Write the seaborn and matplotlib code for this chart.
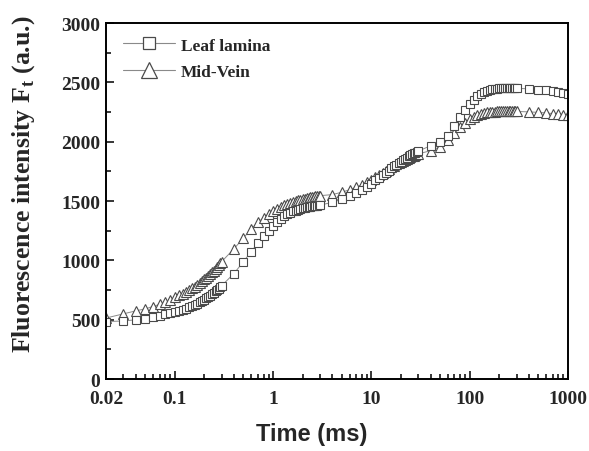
import matplotlib
matplotlib.use('Agg')
import matplotlib.pyplot as plt
from matplotlib.lines import Line2D
from matplotlib.ticker import FixedLocator, LogLocator, MultipleLocator, NullFormatter
import numpy as np
import pandas as pd
import seaborn as sns

# time axis of the transient (ms)
t_ms = [0.02, 0.03, 0.04, 0.05, 0.06, 0.07, 0.08, 0.09, 0.10, 0.11, 0.12, 0.13, 0.14, 0.15,
        0.16, 0.17, 0.18, 0.19, 0.20, 0.21, 0.22, 0.23, 0.24, 0.25, 0.26, 0.27, 0.28, 0.29, 0.30,
        0.4, 0.5, 0.6, 0.7, 0.8, 0.9, 1.0, 1.1, 1.2, 1.3, 1.4, 1.5, 1.6, 1.7, 1.8, 1.9, 2.0,
        2.1, 2.2, 2.3, 2.4, 2.5, 2.6, 2.7, 2.8, 2.9, 3.0,
        4, 5, 6, 7, 8, 9, 10, 11, 12, 13, 14, 15, 16, 17, 18, 19, 20, 21, 22, 23, 24, 25,
        26, 27, 28, 29, 30,
        40, 50, 60, 70, 80, 90, 100, 110, 120, 130, 140, 150, 160, 170, 180, 190, 200, 210,
        220, 230, 240, 250, 260, 270, 280, 290, 300,
        400, 500, 600, 700, 800, 900, 1000]

# Leaf lamina (squares)
leaf = [485, 490, 500, 510, 522, 534, 545, 555, 565, 575, 585, 595, 605, 615,
        626, 637, 648, 659, 670, 681, 692, 703, 715, 727, 739, 751, 763, 775, 787,
        890, 990, 1075, 1146, 1208, 1252, 1292, 1325, 1352, 1373, 1390, 1403, 1413, 1421, 1428, 1434, 1439,
        1443, 1447, 1450, 1453, 1456, 1458, 1460, 1462, 1464, 1466,
        1490, 1515, 1540, 1565, 1592, 1620, 1648, 1674, 1698, 1720, 1740, 1758, 1776, 1792, 1807, 1821,
        1834, 1846, 1857, 1867, 1877, 1886, 1894, 1902, 1909, 1916, 1922,
        1966, 1998, 2050, 2130, 2205, 2270, 2318, 2355, 2383, 2403, 2418, 2428, 2436, 2441, 2445, 2448,
        2450, 2451, 2452, 2453, 2453, 2453, 2453, 2453, 2452, 2452, 2451,
        2446, 2440, 2433, 2426, 2419, 2412, 2405]

# Mid-Vein (triangles)
vein = [515, 550, 575, 592, 612, 630, 650, 668, 690, 705, 720, 735, 750, 765,
        780, 795, 810, 825, 840, 855, 870, 885, 900, 915, 930, 945, 960, 975, 990,
        1098, 1190, 1265, 1320, 1360, 1390, 1416, 1436, 1452, 1465, 1476, 1485, 1493, 1500, 1506, 1511, 1516,
        1520, 1524, 1528, 1531, 1534, 1537, 1540, 1542, 1544, 1546,
        1555, 1575, 1596, 1617, 1638, 1660, 1682, 1703, 1722, 1740, 1757, 1772, 1786, 1799, 1811, 1822,
        1832, 1841, 1850, 1858, 1865, 1872, 1878, 1884, 1889, 1894, 1898,
        1925, 1958, 2015, 2072, 2122, 2162, 2192, 2212, 2226, 2236, 2243, 2248, 2251, 2253, 2255, 2256,
        2257, 2258, 2258, 2258, 2258, 2258, 2258, 2257, 2257, 2257, 2256,
        2252, 2248, 2243, 2238, 2233, 2229, 2225]

xticks = [0.02, 0.1, 1, 10, 100, 1000]
xticklabels = ['0.02', '0.1', '1', '10', '100', '1000']

sns.set_style('ticks')
plt.rcParams['font.family'] = ['Liberation Serif', 'DejaVu Serif']
plt.rcParams['font.weight'] = 'bold'
plt.rcParams['mathtext.fontset'] = 'custom'
plt.rcParams['mathtext.rm'] = 'Liberation Serif:bold'
plt.rcParams['mathtext.bf'] = 'Liberation Serif:bold'

df = pd.DataFrame({'t': t_ms, 'leaf': leaf, 'vein': vein})

fig = plt.figure(figsize=(5.89, 4.52), dpi=100)
ax = fig.add_axes([0.18, 0.159, 0.7843, 0.7876])

edge = '#4a4a4a'
sns.lineplot(data=df, x='t', y='vein', ax=ax, color='#8a8a8a', lw=0.7, marker='^',
             ms=7.5, mfc='white', mec=edge, mew=0.8, errorbar=None)
sns.lineplot(data=df, x='t', y='leaf', ax=ax, color='#8a8a8a', lw=0.7, marker='s',
             ms=6.2, mfc='white', mec=edge, mew=0.8, errorbar=None)

ax.set_xscale('log')
ax.set_xlim(0.02, 1000)
ax.set_ylim(0, 3000)
ax.xaxis.set_major_locator(FixedLocator(xticks))
ax.set_xticklabels(xticklabels)
ax.xaxis.set_minor_locator(LogLocator(base=10, subs=np.arange(2, 10)))
ax.xaxis.set_minor_formatter(NullFormatter())
ax.yaxis.set_major_locator(MultipleLocator(500))
ax.yaxis.set_minor_locator(MultipleLocator(250))

ax.tick_params(which='both', direction='in', top=False, right=False, width=1.1, color='black')
ax.tick_params(which='major', length=6)
ax.tick_params(which='minor', length=3.5)
ax.tick_params(axis='x', which='major', labelsize=14, pad=8)
ax.tick_params(axis='y', which='major', labelsize=14, pad=4)
for s in ax.spines.values():
    s.set_linewidth(1.4)
    s.set_color('black')

ax.set_xlabel('Time (ms)', family=['Liberation Sans', 'DejaVu Sans'], fontsize=17, fontweight='bold')
ax.xaxis.set_label_coords(0.446, -0.12)
ax.set_ylabel('Fluorescence intensity F$_\\mathrm{t}$ (a.u.)', fontsize=18.5, fontweight='bold')
ax.yaxis.set_label_coords(-0.149, 0.55)

handles = [
    Line2D([], [], color='#8a8a8a', lw=0.8, marker='s', ms=8.5, mfc='white', mec=edge, mew=0.9),
    Line2D([], [], color='#8a8a8a', lw=0.8, marker='^', ms=12, mfc='white', mec=edge, mew=0.9),
]
ax.legend(handles, ['Leaf lamina', 'Mid-Vein'], loc='upper left', bbox_to_anchor=(0.036, 0.96),
          frameon=False, borderpad=0, borderaxespad=0, handlelength=3.0, handletextpad=0.35,
          labelspacing=0.6, prop={'family': 'Liberation Serif', 'weight': 'bold', 'size': 12.5})

fig.savefig('out.png', dpi=100)
